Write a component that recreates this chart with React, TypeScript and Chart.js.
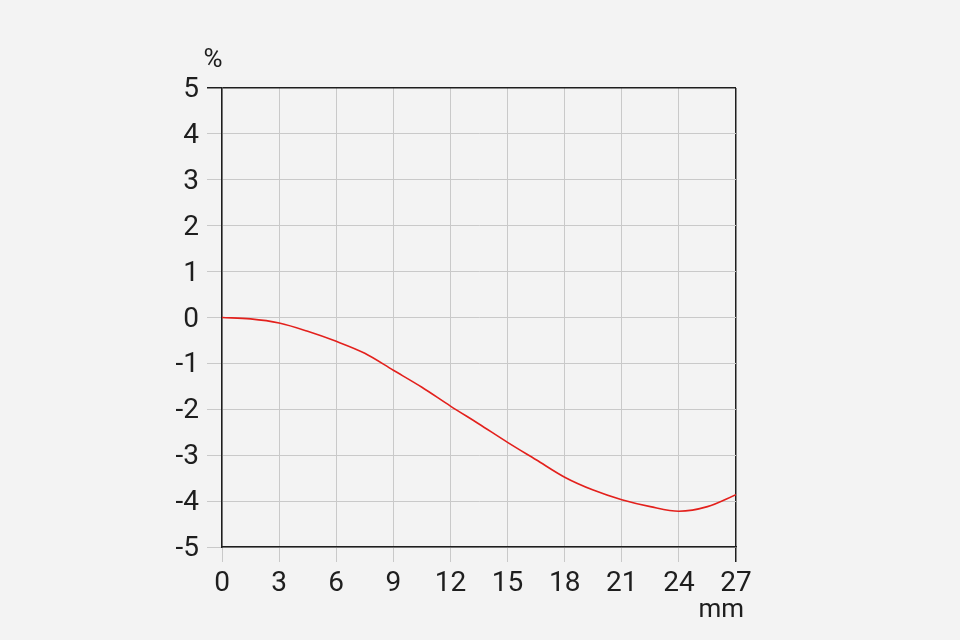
import React, { useEffect, useRef } from "react";
import { Chart, registerables } from "chart.js";

Chart.register(...registerables);

const xValues = [0, 1.5, 3, 4.5, 6, 7.5, 9, 10.5, 12, 13.5, 15, 16.5, 18, 19.5, 21, 22.5, 24, 25.5, 27];
const yValues = [0, -0.03, -0.12, -0.3, -0.52, -0.78, -1.15, -1.52, -1.93, -2.32, -2.72, -3.1, -3.48, -3.76, -3.97, -4.12, -4.22, -4.12, -3.86];
const yUnit = "%";
const xUnit = "mm";

const FONT = "Roboto, 'Liberation Sans', sans-serif";
const GRID = "#c9c9c9";
const DARK = "#1e1e1e";

const unitPlugin = {
  id: "units",
  afterDraw(chart: any) {
    const { ctx, chartArea } = chart;
    ctx.save();
    ctx.fillStyle = DARK;
    ctx.font = `26px ${FONT}`;
    ctx.textAlign = "center";
    ctx.textBaseline = "middle";
    ctx.fillText(yUnit, chartArea.left - 9, chartArea.top - 28);
    ctx.textAlign = "right";
    ctx.fillText(xUnit, chartArea.right + 8, chartArea.bottom + 63);
    ctx.restore();
  },
};

export default function App() {
  const ref = useRef<HTMLCanvasElement | null>(null);
  useEffect(() => {
    document.body.style.margin = "0";
    document.body.style.background = "#f3f3f3";
    const chart = new Chart(ref.current!, {
      type: "line",
      data: {
        datasets: [
          {
            data: xValues.map((x, i) => ({ x, y: yValues[i] })),
            borderColor: "#e3201c",
            borderWidth: 1.6,
            pointRadius: 0,
            cubicInterpolationMode: "monotone",
            fill: false,
          },
        ],
      },
      options: {
        animation: false,
        responsive: false,
        devicePixelRatio: 1,
        layout: { padding: { left: 0, top: 88, right: 224, bottom: 0 } },
        plugins: { legend: { display: false }, tooltip: { enabled: false } },
        scales: {
          x: {
            type: "linear",
            min: 0,
            max: 27,
            afterFit: (s: any) => {
              s.height = 93;
            },
            ticks: {
              stepSize: 3,
              color: DARK,
              font: { family: FONT, size: 28 },
              padding: 5,
              maxRotation: 0,
            },
            grid: {
              color: (c: any) => (c.tick && c.tick.value === 27 ? DARK : GRID),
              lineWidth: (c: any) => (c.tick && c.tick.value === 27 ? 1.5 : 1),
              tickColor: (c: any) => (c.tick && c.tick.value === 27 ? DARK : GRID),
              tickLength: 15,
            },
            border: { color: DARK, width: 1.5 },
          },
          y: {
            type: "linear",
            min: -5,
            max: 5,
            afterFit: (s: any) => {
              s.width = 222;
            },
            ticks: {
              stepSize: 1,
              color: DARK,
              font: { family: FONT, size: 28 },
              padding: 8,
              labelOffset: 2,
            },
            grid: {
              color: (c: any) => (c.tick && c.tick.value === 5 ? DARK : GRID),
              lineWidth: (c: any) => (c.tick && c.tick.value === 5 ? 1.5 : 1),
              tickColor: (c: any) => (c.tick && c.tick.value === 5 ? DARK : GRID),
              tickLength: 15,
            },
            border: { color: DARK, width: 1.5 },
          },
        },
      },
      plugins: [unitPlugin],
    } as any);
    return () => chart.destroy();
  }, []);
  return (
    <div style={{ position: "fixed", left: 0, top: 0, width: 960, height: 640, background: "#f3f3f3" }}>
      <canvas ref={ref} width={960} height={640} style={{ width: 960, height: 640 }} />
    </div>
  );
}
